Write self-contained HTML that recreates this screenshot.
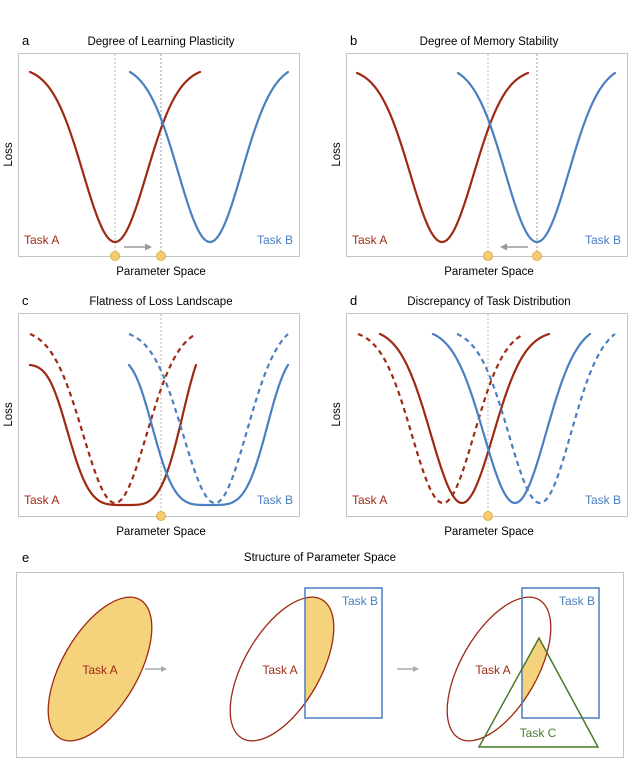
<!DOCTYPE html>
<html><head><meta charset="utf-8">
<style>
html,body{margin:0;padding:0;background:#fff;}
svg{display:block;font-family:"Liberation Sans",sans-serif;}
</style></head>
<body>
<svg id="fig" width="640" height="761" viewBox="0 0 640 761" xmlns="http://www.w3.org/2000/svg">
<defs>
  <clipPath id="clipRect2"><rect x="305" y="588" width="77" height="130"/></clipPath>
  <clipPath id="clipRect3"><rect x="522" y="588" width="77" height="130"/></clipPath>
  <clipPath id="clipTri3"><polygon points="539,638 479,747 598,747"/></clipPath>
</defs>
<g id="panels"></g>

<!-- Panel e -->
<g>
  <text x="22" y="562" font-size="13">e</text>
  <text x="320" y="561" font-size="11.5" text-anchor="middle">Structure of Parameter Space</text>
  <rect x="16.5" y="572.5" width="607" height="185" fill="none" stroke="#c4c4c4" stroke-width="1"/>
  <!-- stage 1 -->
  <ellipse cx="100" cy="669" rx="80" ry="38" transform="rotate(-60 100 669)" fill="#f5d27c" stroke="#9e2a14" stroke-width="1.3"/>
  <text x="100" y="674" font-size="12" fill="#9e2a14" text-anchor="middle">Task A</text>
  <g><line x1="145" y1="669" x2="163" y2="669" stroke="#aaa" stroke-width="1.5"/><polygon points="167,669 161,666 161,672" fill="#aaa"/></g>
  <!-- stage 2 -->
  <g clip-path="url(#clipRect2)">
    <ellipse cx="282" cy="669" rx="80" ry="38" transform="rotate(-60 282 669)" fill="#f5d27c" stroke="none"/>
  </g>
  <ellipse cx="282" cy="669" rx="80" ry="38" transform="rotate(-60 282 669)" fill="none" stroke="#9e2a14" stroke-width="1.3"/>
  <rect x="305" y="588" width="77" height="130" fill="none" stroke="#4a7fc0" stroke-width="1.5"/>
  <text x="378" y="605" font-size="12" fill="#4a7fc0" text-anchor="end">Task B</text>
  <text x="280" y="674" font-size="12" fill="#9e2a14" text-anchor="middle">Task A</text>
  <g><line x1="397" y1="669" x2="415" y2="669" stroke="#aaa" stroke-width="1.5"/><polygon points="419,669 413,666 413,672" fill="#aaa"/></g>
  <!-- stage 3 -->
  <g clip-path="url(#clipTri3)">
    <g clip-path="url(#clipRect3)">
      <ellipse cx="499" cy="669" rx="80" ry="38" transform="rotate(-60 499 669)" fill="#f5d27c"/>
    </g>
  </g>
  <ellipse cx="499" cy="669" rx="80" ry="38" transform="rotate(-60 499 669)" fill="none" stroke="#9e2a14" stroke-width="1.3"/>
  <rect x="522" y="588" width="77" height="130" fill="none" stroke="#4a7fc0" stroke-width="1.5"/>
  <polygon points="539,638 479,747 598,747" fill="none" stroke="#4a7a2a" stroke-width="1.5"/>
  <text x="595" y="605" font-size="12" fill="#4a7fc0" text-anchor="end">Task B</text>
  <text x="493" y="674" font-size="12" fill="#9e2a14" text-anchor="middle">Task A</text>
  <text x="538" y="737" font-size="12" fill="#4a7a2a" text-anchor="middle">Task C</text>
</g>
</svg>
<script>
// ---- data ----
var panelIds = ['a','b','c','d'];
var panelTitles = ['Degree of Learning Plasticity','Degree of Memory Stability','Flatness of Loss Landscape','Discrepancy of Task Distribution'];
var panelX = [18, 346, 18, 346];
var panelY = [53, 53, 313, 313];
// curves: panel index, task, dashed, start, center, end, width, power, top
var curvePanel  = [0,0, 1,1, 2,2,2,2, 3,3,3,3];
var curveTask   = ['A','B','A','B','A','A','B','B','A','A','B','B'];
var curveDashed = [0,0, 0,0, 0,1,0,1, 1,0,0,1];
var curveStart  = [30,130, 357,458, 30,30,129,129, 358,380,433,457];
var curveCenter = [115,210, 442,537, 125,115,210,215, 443,462,515,540];
var curveEnd    = [200,288, 528,615, 196,196,288,288, 524,549,590,615];
var curveWidth  = [45,45, 45,45, 62,45,62,45, 44,44,44,44];
var curvePower  = [2,2, 2,2, 4,2,4,2, 2,2,2,2];
var curveTop    = [72,72, 73,73, 365,334,365,334, 334,334,334,334];
var curveBottom = [242,242, 242,242, 505,503,505,503, 503,503,503,503];
var vlineX   = [[115,161],[488,537],[161],[488]];
var dotX     = [[115,161],[488,537],[161],[488]];
var arrowSeg = [[124,152],[528,500],null,null];

var NS='http://www.w3.org/2000/svg';
var root=document.getElementById('panels');
function mk(tag,attrs,parent){var e=document.createElementNS(NS,tag);for(var k in attrs)e.setAttribute(k,attrs[k]);(parent||root).appendChild(e);return e;}
var RED='#9e2a14', BLUE='#4a7fc0';
var W=281,H=203;
for(var p=0;p<4;p++){
  var g=mk('g',{});
  
  
  var x0=panelX[p], y0=panelY[p];
  var t=mk('text',{x:x0+4,y:y0-8,'font-size':13},g); t.textContent=panelIds[p];
  
  
  var tt=mk('text',{x:x0+143,y:y0-8,'font-size':11.5,'text-anchor':'middle'},g); tt.textContent=panelTitles[p];
  
  
  var fr=mk('rect',{x:x0+0.5,y:y0+0.5,width:W,height:H,fill:'none',stroke:'#c4c4c4','stroke-width':1},g);
  
  
  vlineX[p].forEach(function(vx,i){
    var l=mk('line',{x1:vx,y1:y0+1,x2:vx,y2:y0+H,stroke:i==1?'#999':'#bbb','stroke-width':1,'stroke-dasharray':'2,2'},g);
    
    
  });
  var yl=mk('text',{x:0,y:0,'font-size':11.5,'text-anchor':'middle',transform:'translate('+(x0-6)+','+(y0+H/2)+') rotate(-90)'},g); yl.textContent='Loss';
  
  
  var xl=mk('text',{x:x0+143,y:y0+H+19,'font-size':11.5,'text-anchor':'middle'},g); xl.textContent='Parameter Space';
  
  
  var la=mk('text',{x:x0+6,y:y0+H-12,'font-size':12,fill:RED},g); la.textContent='Task A';
  
  
  var lb=mk('text',{x:x0+W-6,y:y0+H-12,'font-size':12,fill:BLUE,'text-anchor':'end'},g); lb.textContent='Task B';
  
  
  if(arrowSeg[p]){
    var a=arrowSeg[p], dir=a[1]>a[0]?1:-1;
    var ag=mk('g',{},g);
    
    
    mk('line',{x1:a[0],y1:y0+H-9,x2:a[1]-dir*4,y2:y0+H-9,stroke:'#999','stroke-width':1.5},ag);
    mk('polygon',{points:a[1]+','+(y0+H-9)+' '+(a[1]-dir*7)+','+(y0+H-12.5)+' '+(a[1]-dir*7)+','+(y0+H-5.5),fill:'#999'},ag);
  }
  g._dots=dotX[p]; g._y=y0+H;
  window['pg'+p]=g;
}
for(var i=0;i<curvePanel.length;i++){
  var g=window['pg'+curvePanel[i]];
  var c=curveCenter[i], w=curveWidth[i], pw=curvePower[i];
  var amp=curveBottom[i]-curveTop[i];
  var fEnd=function(d){return 1-Math.exp(-Math.pow(Math.abs(d)/w,pw));};
  var nL=fEnd(curveStart[i]-c), nR=fEnd(curveEnd[i]-c);
  var d='';
  for(var x=curveStart[i];x<=curveEnd[i];x+=1){
    var f=fEnd(x-c)/(x<c?nL:nR);
    var y=curveBottom[i]-amp*f;
    d+=(d?'L':'M')+x.toFixed(1)+','+y.toFixed(1);
  }
  var attrs={d:d,fill:'none',stroke:curveTask[i]=='A'?RED:BLUE,'stroke-width':2.2,'stroke-linecap':'round'};
  if(curveDashed[i]){attrs['stroke-dasharray']='5,4';attrs['stroke-linecap']='butt';}
  var path=mk('path',attrs,g);
  
  
}
for(var p=0;p<4;p++){
  var g=window['pg'+p];
  g._dots.forEach(function(dx){
    var ci=mk('circle',{cx:dx,cy:g._y,r:4.5,fill:'#f5cc72',stroke:'#d9a640','stroke-width':0.8},g);
    
    
  });
}
</script>
</body></html>
